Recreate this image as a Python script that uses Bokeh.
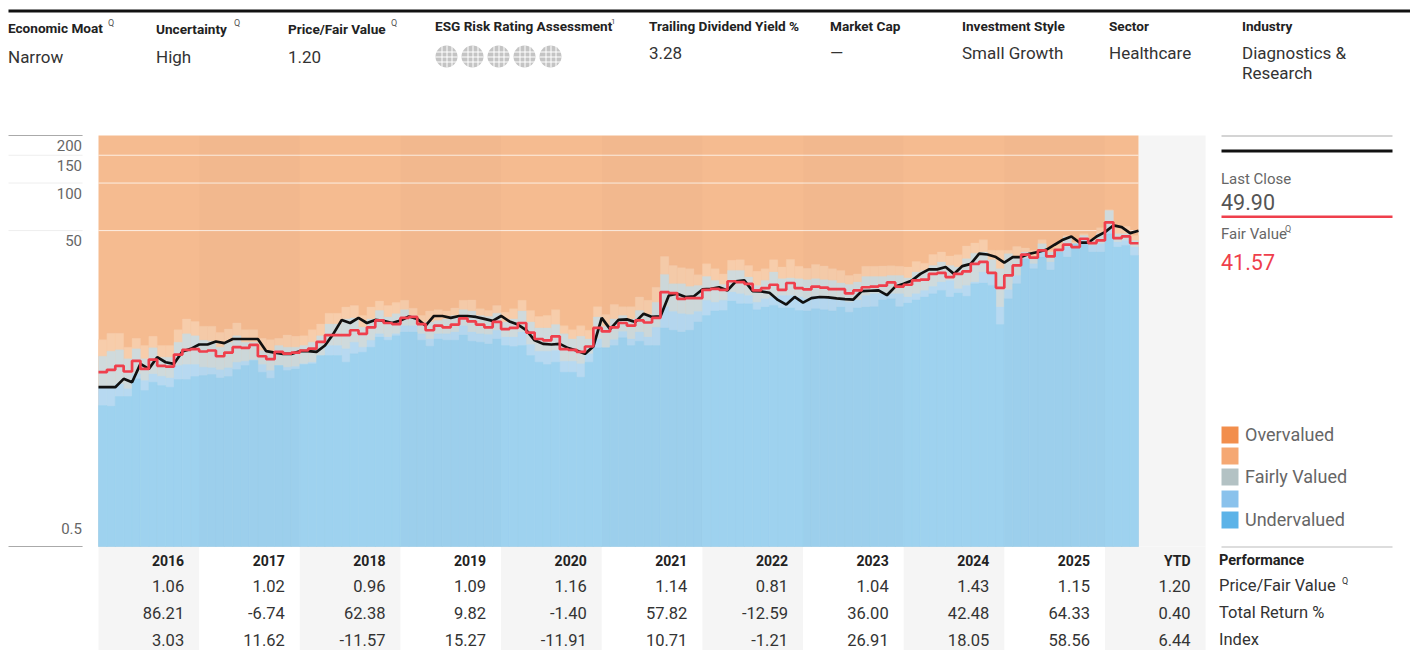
from bokeh.plotting import figure
from bokeh.models import Range1d, Label, BoxAnnotation
from bokeh.embed import file_html
from bokeh.resources import INLINE

fair_value = [6.35,6.57,6.96,6.41,7.49,6.66,7.63,6.96,6.89,8.21,8.79,8.88,8.58,8.71,8.01,8.45,9.14,9.05,9.46,8.01,7.67,8.54,8.33,8.45,8.71,8.96,9.88,10.9,10.9,10.9,11.7,11.1,
 12.2,13.5,13,12.8,14,14.2,12.8,11.7,12.5,12.2,12.7,13.9,13.3,12.7,12.2,13.2,11.9,12.1,13,11.3,10.3,10.1,10.7,8.88,8.79,8.54,9.23,12.1,11.5,12.2,13,12.5,13.5,13.1,14,
 20.4,20.1,18.5,18.7,18.7,21.1,21.4,21.1,23.9,23.6,23,20.9,21.6,22.7,21.1,23.3,21.6,21.2,22.1,21.8,21.3,21.3,20,20.9,21.9,22.1,22.4,23.5,22.1,22.7,24.2,24.5,26.6,27,
 25.4,26.6,27.6,30.8,31.7,27,21.7,26,30.1,35.2,33.7,37.5,34.3,37.8,40.7,39.3,44.4,41.7,43.3,56.4,44.8,45.9,41.57]
price = [5.1,5.1,5.1,5.76,5.48,7.17,6.66,7.9,7.34,7.17,8.58,8.92,9.5,9.5,9.93,9.69,10.3,10.3,10.3,10.3,8.62,8.45,8.29,8.29,8.62,8.62,8.54,9.36,11.1,13.6,13,14,13,13.6,
 13.4,13,13.5,14.3,13.8,12.5,14.4,14.4,14,14.4,14.4,14.2,13.8,13.4,14.4,13.3,12.7,11.7,10.1,9.59,9.5,9.59,9.01,8.71,8.29,9.23,14,11.9,13.6,13.7,13.2,14.9,14.2,14.3,
 19.4,19.9,19,19.2,21.2,21.4,21.9,20.9,23.9,24.2,20.7,20.6,20.2,18.2,17,19,17.5,18.7,19,18.9,18.6,18.4,18.3,20.7,20.8,20.9,19.5,22.1,23,24.2,26.6,28.4,28.4,29.4,26.6,
 29.8,30.8,35.7,35.3,34,31.3,34,34,35.7,36.6,37.8,40.7,43.8,45.9,41.9,41.9,45.9,48.9,53.9,52.6,48.2,49.9]
overvalued_floor = [10.2,11.2,11.2,9.14,10.4,9.36,10.7,9.36,9.36,11.8,13.8,13.3,12.4,12.4,11.3,11.9,13,11.8,11.8,10.4,10.2,10.4,10.9,10.7,10.8,11.8,12.8,15,15,16.4,16.8,14.5,16.4,
 17.9,16.8,17.5,18.1,16.1,14.5,15.5,15.8,15.5,16.2,18.1,18.2,16,15.6,16.8,15.2,16,18.1,15.6,14.3,14.5,15.8,12.5,11.8,12.5,11.7,16.5,14.7,17,16.5,16.5,19,18.1,21.9,
 34.3,30.1,29.1,28.7,26.3,30.8,28.7,26.6,32.4,32.7,30.1,27.6,28.7,32.7,29.4,32.8,29.7,28.9,30.5,29.8,28.7,28,26,26.6,29.7,29.7,29.8,29.9,29.7,29.4,31.9,31.1,35.3,
 36.6,34.5,35.2,39.9,41.7,43.8,37.5,37.5,37.5,39.7,38.8,37.5,43.8,37.5,41.3,46.6,42.3,47.8,44.4,52.1,67.8,53.9,53.2,46.6]
fair_top = [8.01,8.62,8.79,7.71,8.92,7.71,9.05,7.9,7.9,9.83,11.1,10.8,10.1,9.98,9.14,9.83,10.8,9.83,9.83,8.71,8.37,9.36,9.14,9.14,9.36,9.83,10.8,12.8,12.8,13.8,14,12.2,13.8,
 15.6,14.2,14.9,15.8,14.5,12.8,13.2,13.5,13.8,14.5,15.8,15.5,14.5,14.3,15,13.2,13.8,15.5,13.2,12.1,12.1,12.7,11.1,10.3,10.7,10.3,14.2,12.4,13.8,14.5,13.8,15.6,14.7,
 17.6,26.4,23,23,22.1,22.5,25.6,24.2,22.8,28,28,25.4,22.5,24.2,27.3,24.8,25.1,24.8,24.4,24.8,24.4,24.2,23.3,22.8,23.6,25.6,25.6,25.6,26,26,25.1,27.3,28,30.1,31.6,
 30.1,29.4,33.2,36,36.6,32.7,28.7,35.7,34,36.6,34,41.3,36.6,38.4,45.5,41.3,46.6,43.3,47.8,67.1,47.8,47.8,43.3]
fair_bottom = [5.1,5.05,5.35,4.98,6.19,5.62,6.19,5.99,5.84,6.99,7.1,7.1,6.83,6.76,6.57,6.76,7.34,7.45,7.6,7.1,6.5,6.99,6.83,6.89,7.17,7.34,7.9,9.36,9.36,8.92,9.83,9.14,10.1,
 11.1,10.6,11.1,12.5,12.5,11.1,10.3,11.1,11.1,11.4,12.5,11.4,11.1,11,11.7,10.6,10.6,11.4,9.5,8.62,8.62,8.71,7.45,7.45,7.17,8.29,10.3,9.05,10.2,11.5,10.3,11.4,10.6,
 12.2,16.5,15.4,14.9,14.7,15.4,18.1,17.6,18.1,20.4,19.9,19.4,17.6,18.5,19,19.4,19.4,19,18.5,19.1,19,18.5,18.1,17.6,18.2,19.4,19.9,19.9,19.9,19.9,19,19.9,20.9,22.1,
 23.6,24.2,21.4,22.5,23.6,27.3,27.3,16.4,21.1,26,33.2,30.8,36.6,31.6,35.7,39.3,37.5,43.3,40.3,41.3,51.4,42.3,43.3,39.3]
undervalued_top = [3.9,3.86,4.45,4.45,5.76,4.86,5.48,5.22,5.1,5.7,5.7,5.96,6.04,6.13,5.84,5.96,6.6,6.99,7.52,6.35,5.81,6.99,6.5,6.66,7.1,7.17,8.09,8.09,8.09,7.34,8.29,8.5,9.14,10.6,10.1,10.8,11.4,11.4,10.1,9.27,
 10.3,10.1,10.1,10.9,9.98,9.83,9.59,10.3,9.36,9.23,9.36,8.09,7.34,7.1,7.34,6.35,6.35,5.9,7.34,9.05,9.05,9.36,10.5,9.36,9.98,9.36,9.36,12.1,11.7,11.4,11.7,13.2,14.5,15.5,15.6,17.9,17.2,17.2,15.8,16.4,16.8,
 16.2,16.2,15.6,15.5,16,15.8,15.5,16.4,15.2,16.2,16.4,16.5,18.2,18.5,16.5,17.4,18.2,19,19.9,20.9,19,20.1,19.2,23,23.3,22.5,12.7,18.5,23,33.2,28.7,34,28.2,36.6,34,41.3,41.3,36.6,36.6,47.8,39.3,40.3,34.8]

years = ["2016","2017","2018","2019","2020","2021","2022","2023","2024","2025","YTD"]
price_fv = ["1.06","1.02","0.96","1.09","1.16","1.14","0.81","1.04","1.43","1.15","1.20"]
total_return = ["86.21","-6.74","62.38","9.82","-1.40","57.82","-12.59","36.00","42.48","64.33","0.40"]
index_ret = ["3.03","11.62","-11.57","15.27","-11.91","10.71","-1.21","26.91","18.05","58.56","6.44"]
y_ticks = [200,150,100,50,0.5]
y_tick_offsets = [-10,-10,-10,-10,18]

FONT="Roboto"
Ymin,Ymax=0.1098,1431.3
p=figure(width=1410,height=650,x_range=Range1d(-11.685,156.43),y_range=Range1d(Ymin,Ymax),y_axis_type="log",
         x_axis_location=None,y_axis_location=None,toolbar_location=None,output_backend="svg",min_border=0,outline_line_color=None)
p.grid.visible=False

def T(x,y,text,size=16,color="#333333",bold=False,align="left"):
    p.add_layout(Label(x=x-0.5,y=650-y+1,x_units="screen",y_units="screen",text=text,text_font=FONT,text_font_size=f"{size}px",
        text_color=color,text_font_style="bold" if bold else "normal",text_align=align,text_baseline="middle"))
def R(x0,y0,x1,y1,color):
    p.add_layout(BoxAnnotation(left=x0,right=x1,top=650-y0,bottom=650-y1,left_units="screen",right_units="screen",top_units="screen",bottom_units="screen",
        fill_color=color,fill_alpha=1,line_color=None,level="annotation"))

# grey columns behind table and YTD
gl=[0,24,48,72,96,120]; gr_=[12,36,60,84,108,132]
p.quad(left=gl,right=gr_,bottom=Ymin,top=0.5,color="#F5F5F5",line_color=None)
p.quad(left=[124],right=[132],bottom=0.5,top=200,color="#F5F5F5",line_color=None)
# chart
months=list(range(124)); ends=list(range(1,125))
p.quad(left=[0],right=[124],bottom=0.5,top=200,color="#F5BB90",line_color=None)
p.segment(x0=0,x1=124,y0=[150,100,50],y1=[150,100,50],line_color="#FFFFFF",line_alpha=0.75,line_width=1)
for vals,c in ((overvalued_floor,"#F7CDAB"),(fair_top,"#CFDADC"),(fair_bottom,"#B7D9F1"),(undervalued_top,"#9ED2EF")):
    p.quad(left=months,right=ends,bottom=0.5,top=vals,color=c,line_color=c,line_width=0.3)
p.quad(left=[12,36,60,84,108],right=[24,48,72,96,120],bottom=0.5,top=200,color="#000000",alpha=0.012,line_color=None)
p.line(list(range(125)),price,line_color="#111111",line_width=2.7)
p.step(list(range(125)),fair_value+[fair_value[-1]],mode="after",line_color="#EF3F4C",line_width=2.7)
# y scale
for v,off in zip(y_ticks,y_tick_offsets):
    c="#AAAAAA" if v in (200,0.5) else "#EEEEEE"
    p.segment(x0=-10.73,x1=-1.9,y0=v,y1=v,line_color=c,line_width=1)
    p.add_layout(Label(x=81.5,x_units="screen",y=v,y_offset=off,text=f"{v}",text_font=FONT,text_font_size="15px",text_color="#666666",text_align="right",text_baseline="middle"))
# top
R(8,9,1410,12,"#111111")
for x,y,t in ((8,28,"Economic Moat"),(156,29,"Uncertainty"),(288,29,"Price/Fair Value"),(435,26,"ESG Risk Rating Assessment"),(649,26,"Trailing Dividend Yield %"),
              (830,26,"Market Cap"),(962,26,"Investment Style"),(1109,26,"Sector"),(1242,26,"Industry")):
    T(x,y,t,13.6,"#222222",True)
for x,y,t in ((108,23,"Q"),(234,23,"Q"),(391,23,"Q")):
    T(x,y,t,9,"#555555")
T(611,22,"1",8,"#555555")
for x,y,t in ((8,57,"Narrow"),(156,57,"High"),(288,57,"1.20"),(649,53,"3.28"),(830,53,"—"),(962,53,"Small Growth"),(1109,53,"Healthcare"),(1242,53,"Diagnostics &"),(1242,73,"Research")):
    T(x,y,t,17,"#333333")
# globes
for cx in (446,472,498,524,550):
    p.add_layout(BoxAnnotation(left=cx-11,right=cx+11,top=650-45,bottom=650-67,left_units="screen",right_units="screen",top_units="screen",bottom_units="screen",
        fill_color="#C4C4C4",fill_alpha=1,line_color=None,border_radius=11))
    for dy in (-5,0,5):
        R(cx-11,56+dy,cx+11,57+dy,"#FFFFFF")
    for dx in (-5,0,5):
        R(cx+dx,45,cx+dx+1,67,"#FFFFFF")
# right panel
R(1221,135,1392,136,"#AAAAAA")
R(1221,149,1392,152,"#111111")
T(1221,179,"Last Close",15,"#666666")
T(1221,202,"49.90",21.5,"#555555")
R(1221,215,1392,217.5,"#EF3F4C")
T(1221,234,"Fair Value",15,"#666666")
T(1285,229,"Q",9,"#666666")
T(1221,262,"41.57",21.5,"#EF3F4C")
sw=(("#F28E4C","Overvalued",426),("#F5A873","",447),("#B3C2C4","Fairly Valued",468),("#8AC2EC","",490),("#5CB3E8","Undervalued",511))
for c,t,y in sw:
    R(1221,y,1238,y+17,c)
    if t: T(1245,y+9,t,18,"#666666")
R(1221,546,1392,547,"#BBBBBB")
# table
rows=((561,years,14,True,"#222222"),(586,price_fv,16.5,False,"#333333"),(613,total_return,16.5,False,"#333333"),(640,index_ret,16.5,False,"#333333"))
for y,row,sz,b,c in rows:
    for k,t in enumerate(row):
        p.add_layout(Label(x=12*(k+1),x_units="data",x_offset=-15,y=650-y+1,y_units="screen",text=t,text_font=FONT,text_font_size=f"{sz}px",
            text_color=c,text_font_style="bold" if b else "normal",text_align="right",text_baseline="middle"))
T(1219,561,"Performance",14.5,"#222222",True)
T(1219,586,"Price/Fair Value",16.5)
T(1342,581,"Q",9,"#333333")
T(1219,613,"Total Return %",16.5)
T(1219,640,"Index",16.5)
open("out.html","w").write(file_html(p,INLINE))
